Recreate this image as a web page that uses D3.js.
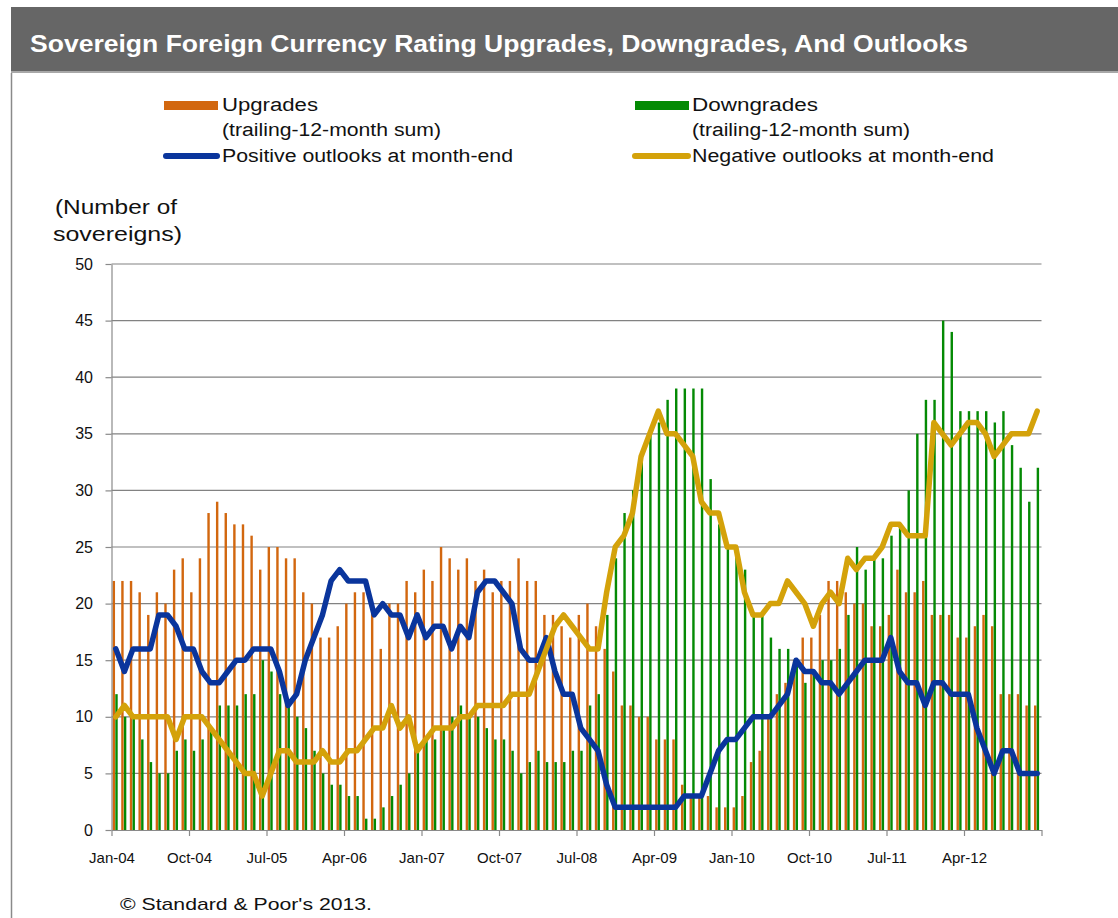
<!DOCTYPE html>
<html><head><meta charset="utf-8">
<script src="https://cdn.jsdelivr.net/npm/d3@7"></script>
<style>
html,body{margin:0;padding:0;background:#fff;}
svg{display:block;font-family:Arial,"Liberation Sans",sans-serif;}
</style>
</head><body>
<svg id="chart" width="1118" height="918"></svg>
<script>
// ---- data (Jan-04 .. Dec-12, monthly) ----
const months = d3.timeMonth.range(new Date(2004,0,1), new Date(2013,0,1)).map(d3.timeFormat("%b-%y"));
const upgrades = [22,22,22,21,19,21,20,23,24,21,24,28, 29,28,27,27,26,23,25,25,24,24,21,20,
  17,17,18,20,21,21,20,16,20,20,22,21, 23,22,25,24,23,24,22,23,21,22,22,24,
  22,22,19,19,18,17,19,20,18,16,14,11, 11,10,10,8,8,8,4,3,3,3,2,2,
  2,3,6,7,10,12,13,15,17,17,19,22, 22,21,20,20,18,18,19,23,21,21,22,19,
  19,19,17,17,18,19,18,12,12,12,11,11];
const downgrades = [12,10,10,8,6,5,5,7,8,7,8,9, 11,11,11,12,12,15,14,12,11,10,9,7,
  5,4,4,3,3,1,1,2,3,4,5,7, 8,8,9,10,11,10,10,9,8,8,7,5,
  6,7,6,6,6,7,7,11,12,19,24,28, 30,33,35,36,38,39,39,39,39,31,27,25,
  25,23,19,19,17,16,16,15,13,14,15,15, 16,19,25,23,24,24,26,27,30,35,38,38,
  45,44,37,37,37,37,36,37,34,32,29,32];
const positiveOutlooks = [16,14,16,16,16,19,19,18,16,16,14,13, 13,14,15,15,16,16,16,14,11,12,15,17,
  19,22,23,22,22,22,19,20,19,19,17,19, 17,18,18,16,18,17,21,22,22,21,20,16,
  15,15,17,14,12,12,9,8,7,4,2,2, 2,2,2,2,2,2,3,3,3,5,7,8,
  8,9,10,10,10,11,12,15,14,14,13,13, 12,13,14,15,15,15,17,14,13,13,11,13,
  13,12,12,12,9,7,5,7,7,5,5,5];
const negativeOutlooks = [10,11,10,10,10,10,10,8,10,10,10,9, 8,7,6,5,5,3,5,7,7,6,6,6,
  7,6,6,7,7,8,9,9,11,9,10,7, 8,9,9,9,10,10,11,11,11,11,12,12,
  12,14,16,18,19,18,17,16,16,21,25,26, 28,33,35,37,35,35,34,33,29,28,28,25,
  25,21,19,19,20,20,22,21,20,18,20,21, 20,24,23,24,24,25,27,27,26,26,26,36,
  35,34,35,36,36,35,33,34,35,35,35,37];
const xTickLabels = ["Jan-04","Oct-04","Jul-05","Apr-06","Jan-07","Oct-07","Jul-08","Apr-09","Jan-10","Oct-10","Jul-11","Apr-12"];
const yTicks = [0,5,10,15,20,25,30,35,40,45,50];

const C_UP = "#d2670f", C_DOWN = "#048a04", C_POS = "#0a359c", C_NEG = "#d4a20a";

const W = 1118, H = 918;
const svg = d3.select("#chart");

function fit(sel, w){ sel.attr("textLength", w).attr("lengthAdjust","spacingAndGlyphs"); return sel; }

// frame
svg.append("rect").attr("x",11).attr("y",7).attr("width",W-11).attr("height",66).attr("fill","#666666");
svg.append("rect").attr("x",11).attr("y",71).attr("width",W-11).attr("height",2).attr("fill","#a8a8a8");
svg.append("line").attr("x1",11.5).attr("x2",11.5).attr("y1",73).attr("y2",H).attr("stroke","#8a8a8a").attr("stroke-width",1.5);

fit(svg.append("text").attr("x",30).attr("y",52).attr("fill","#fff").attr("font-weight","bold")
  .attr("font-size",23).text("Sovereign Foreign Currency Rating Upgrades, Downgrades, And Outlooks"), 938);

// scales
const x0 = 111.5, x1 = 1041.5;
const x = d3.scaleBand().domain(d3.range(months.length)).range([x0,x1]).padding(0);
const xl = d3.scaleLinear().domain([0,months.length]).range([x0,x1]);
const y = d3.scaleLinear().domain([0,50]).range([830,264]);
const bw = x.bandwidth();

// gridlines
svg.append("g").selectAll("line").data(yTicks.filter(v=>v>0)).join("line")
  .attr("x1",x0).attr("x2",x1).attr("y1",d=>y(d)).attr("y2",d=>y(d))
  .attr("stroke","#828282").attr("stroke-width",1.2);

// bars
const bars = svg.append("g");
bars.selectAll(".up").data(upgrades).join("rect").attr("class","up")
  .attr("x",(d,i)=>x(i)+bw*0.13).attr("width",bw*0.28)
  .attr("y",d=>y(d)).attr("height",d=>y(0)-y(d)).attr("fill",C_UP);
bars.selectAll(".down").data(downgrades).join("rect").attr("class","down")
  .attr("x",(d,i)=>x(i)+bw*0.44).attr("width",bw*0.28)
  .attr("y",d=>y(d)).attr("height",d=>y(0)-y(d)).attr("fill",C_DOWN);

// axes
const xAxis = d3.axisBottom(xl).tickValues(d3.range(0,months.length+1,9))
  .tickFormat(i => xTickLabels[i/9] || "").tickSize(6).tickSizeOuter(0);
const gx = svg.append("g").attr("transform","translate(0,830)").call(xAxis);
gx.selectAll("path,line").attr("stroke","#8a8a8a").attr("stroke-width",1.2);
gx.selectAll("text").attr("y",22).attr("font-size",15).attr("fill","#111").attr("font-family","Arial,'Liberation Sans',sans-serif");

const yAxis = d3.axisLeft(y).tickValues(yTicks).tickSize(6).tickSizeOuter(0);
const gy = svg.append("g").attr("transform",`translate(${x0},0)`).call(yAxis);
gy.selectAll("path,line").attr("stroke","#8a8a8a").attr("stroke-width",1.2);
gy.selectAll("text").attr("x",-18.5).attr("font-size",16).attr("fill","#111").attr("font-family","Arial,'Liberation Sans',sans-serif");

// lines
const line = d3.line().x((d,i)=>x(i)+bw/2).y(d=>y(d));
svg.append("path").datum(positiveOutlooks).attr("d",line).attr("fill","none")
  .attr("stroke",C_POS).attr("stroke-width",5.5).attr("stroke-linejoin","round").attr("stroke-linecap","round");
svg.append("path").datum(negativeOutlooks).attr("d",line).attr("fill","none")
  .attr("stroke",C_NEG).attr("stroke-width",5.5).attr("stroke-linejoin","round").attr("stroke-linecap","round");

// legend
const lg = svg.append("g").attr("font-size",18).attr("fill","#111");
lg.append("rect").attr("x",164).attr("y",101).attr("width",54).attr("height",9).attr("fill",C_UP);
lg.append("rect").attr("x",635).attr("y",101).attr("width",54).attr("height",9).attr("fill",C_DOWN);
lg.append("line").attr("x1",166).attr("x2",217).attr("y1",156).attr("y2",156).attr("stroke",C_POS).attr("stroke-width",6).attr("stroke-linecap","round");
lg.append("line").attr("x1",635).attr("x2",688).attr("y1",156).attr("y2",156).attr("stroke",C_NEG).attr("stroke-width",6).attr("stroke-linecap","round");
fit(lg.append("text").attr("x",222).attr("y",111).text("Upgrades"),96);
fit(lg.append("text").attr("x",222).attr("y",136).text("(trailing-12-month sum)"),219);
fit(lg.append("text").attr("x",222).attr("y",162).text("Positive outlooks at month-end"),291);
fit(lg.append("text").attr("x",692).attr("y",111).text("Downgrades"),126);
fit(lg.append("text").attr("x",692).attr("y",136).text("(trailing-12-month sum)"),218);
fit(lg.append("text").attr("x",692).attr("y",162).text("Negative outlooks at month-end"),302);

// y-axis title
fit(svg.append("text").attr("x",55).attr("y",214).attr("font-size",20).attr("fill","#111").text("(Number of"),122);
fit(svg.append("text").attr("x",53).attr("y",241).attr("font-size",20).attr("fill","#111").text("sovereigns)"),129);

// footer
fit(svg.append("text").attr("x",120).attr("y",910).attr("font-size",17).attr("fill","#111").text("© Standard & Poor's 2013."),252);
</script>
</body></html>
